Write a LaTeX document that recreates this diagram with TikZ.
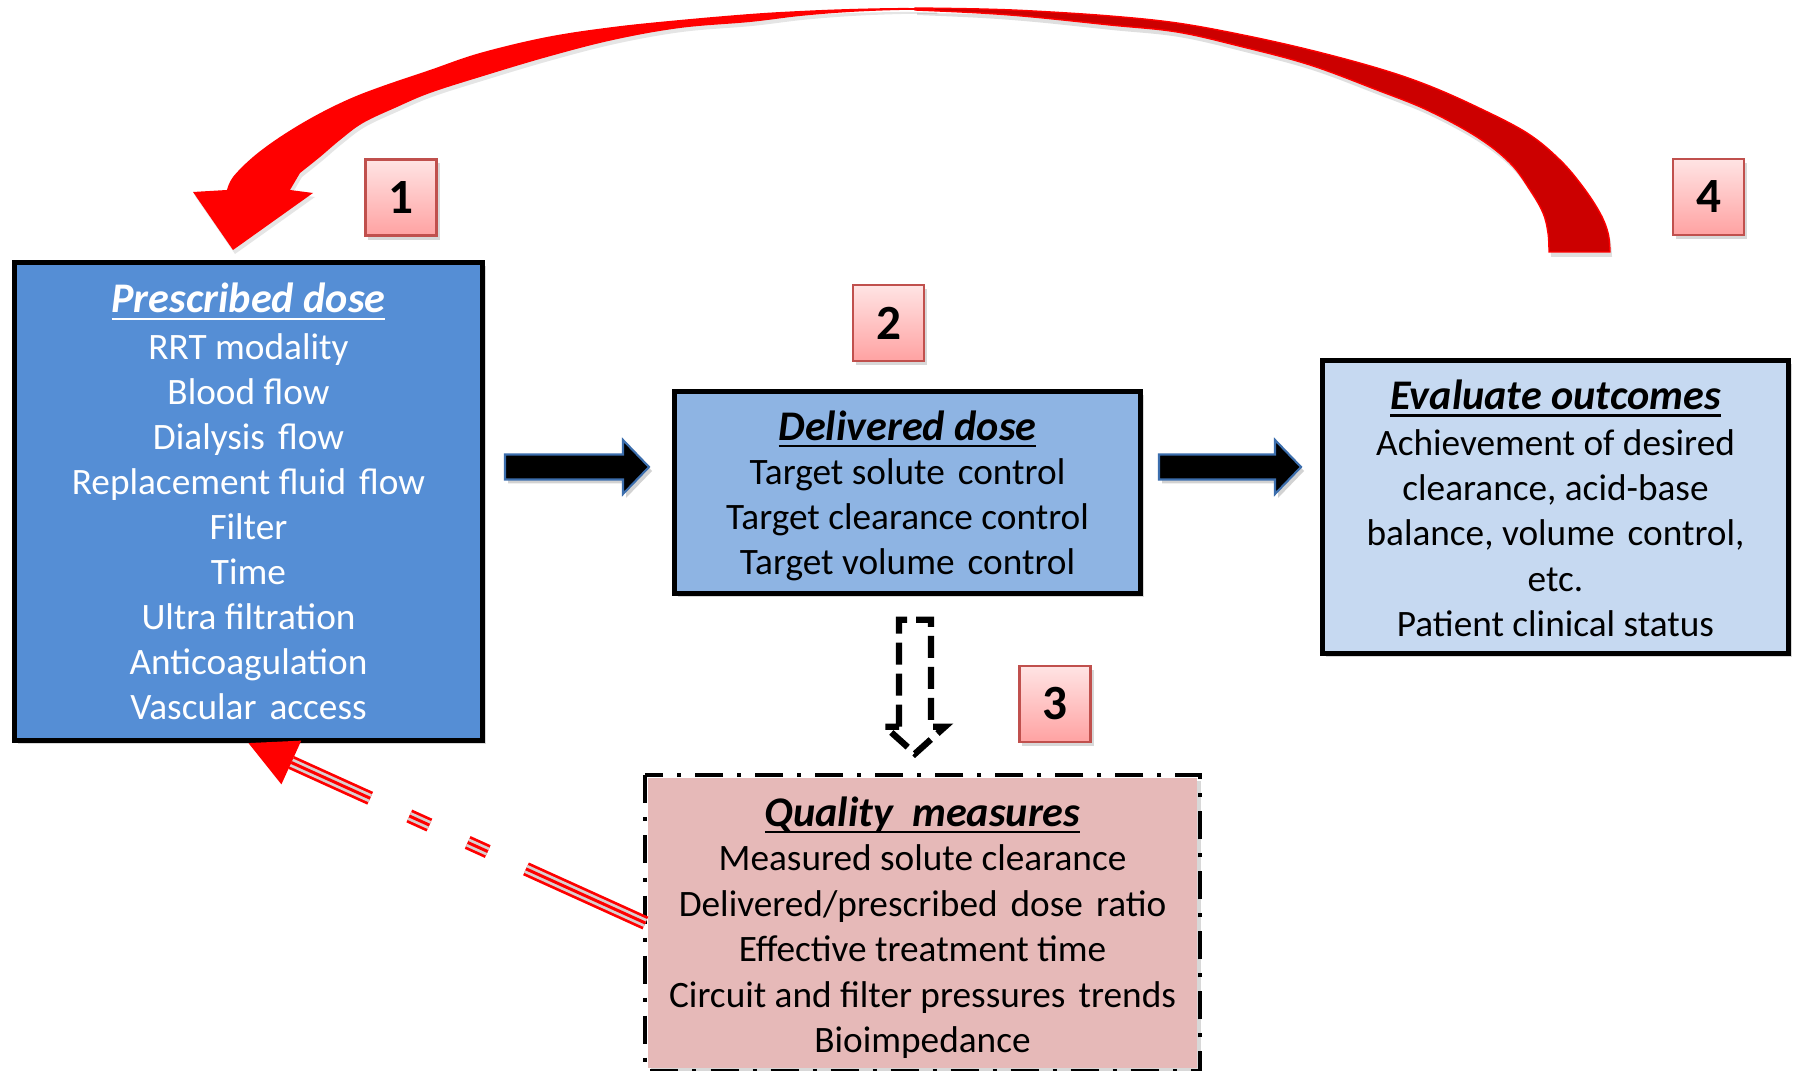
\documentclass[tikz,border=0pt]{standalone}
\usepackage{fontspec}
\setmainfont{Carlito}
\usetikzlibrary{calc,shadows}
\definecolor{bxA}{HTML}{558ED5}
\definecolor{bxB}{HTML}{8EB4E3}
\definecolor{bxC}{HTML}{C6D9F1}
\definecolor{bxQ}{HTML}{E6B9B8}
\definecolor{numTop}{HTML}{FFE4E4}
\definecolor{numBot}{HTML}{FFA2A2}
\definecolor{numBrd}{HTML}{C0504D}
\definecolor{arrBlue}{HTML}{3C6EAD}
\definecolor{redD}{HTML}{CC0000}
\definecolor{stripeG}{HTML}{D8D0D0}
\newcommand\ttl[1]{\leavevmode{\fontsize{12}{12.9}\selectfont\bfseries\itshape\setbox0\hbox{#1}\rlap{\rule[-2pt]{\wd0}{0.65pt}}\box0}}
\newcommand\ds{\hskip0.35em\relax}
\newcommand\boxtext[3]{\raisebox{#1}[\height][\depth]{\parbox{#2}{\centering #3}}}
\tikzset{
  bigbox/.style={draw=black, line width=1.4pt, inner sep=0pt,
    font=\fontsize{10.6}{12.9}\selectfont,
    drop shadow={opacity=0.3, shadow xshift=0.035cm, shadow yshift=-0.035cm}},
  numbox/.style={draw=numBrd, line width=0.6pt, top color=numTop, bottom color=numBot,
    minimum width=0.71cm, minimum height=0.76cm, inner sep=0pt,
    font=\fontsize{14}{14}\selectfont\bfseries,
    drop shadow={opacity=0.3, shadow xshift=0.03cm, shadow yshift=-0.04cm}},
  barrow/.style={fill=black, draw=arrBlue, line width=0.6pt, line join=miter,
    drop shadow={opacity=0.35, shadow xshift=0.03cm, shadow yshift=-0.04cm}},
  hollowarrow/.style={draw=black, line width=1.8pt, dash pattern=on 0.22cm off 0.09cm},
  qborder/.style={line width=1.15pt, dash pattern=on 0.28cm off 0.14cm on 0.04cm off 0.14cm},
  stripedash/.style={dash pattern=on 1.31cm off 0.42cm on 0.22cm off 0.42cm on 0.22cm off 0.43cm on 3cm off 0.1cm},
}
\begin{document}
\begin{tikzpicture}[x=0.01cm,y=-0.01cm]
\useasboundingbox (0,0) rectangle (1797,1071);
\fill[white] (0,0) rectangle (1797,1071);

% big curved arrow: right (dark) part
\filldraw[redD, draw=red, line width=0.4pt,
  drop shadow={opacity=0.25, shadow xshift=0.02cm, shadow yshift=-0.05cm}]
  plot[smooth, tension=0.6] coordinates {(915,8) (980,9) (1033,11) (1110,16) (1177,23) (1243,35) (1310,50) (1377,68) (1427,85) (1477,107) (1527,133) (1560,160) (1583,187) (1600,213) (1608,233) (1610,252)}
  -- plot[smooth, tension=0.6] coordinates {(1549,252) (1548,233) (1543,213) (1530,190) (1510,163) (1477,137) (1427,110) (1377,90) (1310,65) (1243,47) (1177,32) (1110,25) (1033,17) (980,13) (915,10)}
  -- cycle;
% big curved arrow: left (bright) part with head
\fill[red, drop shadow={opacity=0.2, shadow xshift=0.02cm, shadow yshift=-0.04cm}]
  plot[smooth, tension=0.6] coordinates {(935,8.5) (900,8) (850,9) (800,11) (750,14) (680,20) (613,27) (547,37) (480,53) (430,70) (380,87) (347,100) (313,117) (280,137) (253,157) (233,177) (227,190)}
  -- (193,192) -- (233,250) -- (313,193) -- (290,190)
  -- plot[smooth, tension=0.6] coordinates {(300,173) (320,157) (340,140) (363,123) (397,107) (430,93) (480,77) (547,57) (613,40) (680,28) (750,22) (800,16) (850,12) (900,10) (935,10)}
  -- cycle;

% boxes
\node[bigbox, fill=bxA, text=white, minimum width=4.68cm, minimum height=4.78cm] (pd) at (248.5,501.5)
  {\boxtext{0pt}{4.6cm}{\fontsize{10.6}{12.8}\selectfont\ttl{Prescribed dose}\\[0.4pt] RRT modality\\ Blood flow\\ Dialysis\ds flow\\ Replacement fluid\ds flow\\ Filter\\ Time\\ Ultra filtration\\ Anticoagulation\\ Vascular\ds access}};
\node[bigbox, fill=bxB, minimum width=4.66cm, minimum height=2.02cm] (dd) at (907.5,492.5)
  {\boxtext{-1pt}{4.6cm}{\ttl{Delivered dose}\\[-0.4pt] Target solute\ds control\\ Target clearance control\\ Target volume\ds control}};
\node[bigbox, fill=bxC, minimum width=4.66cm, minimum height=2.93cm] (eo) at (1555.5,507)
  {\boxtext{-0.4pt}{4.6cm}{\ttl{Evaluate outcomes}\\[0pt] Achievement of desired\\ clearance, acid-base\\ balance, volume\ds control,\\ etc.\\ Patient clinical status}};
\node[bigbox, draw=none, fill=bxQ, minimum width=5.49cm, minimum height=2.90cm] (qm) at (922.5,923)
  {\boxtext{-1.3pt}{5.4cm}{\ttl{Quality\ \ measures}\\[-0.2pt] Measured solute clearance\\ Delivered/prescribed\ds dose\ds ratio\\ Effective treatment time\\ Circuit and filter pressures\ds trends\\ Bioimpedance}};
\draw[qborder] (qm.north west) rectangle (qm.south east);

% number boxes
\node[numbox] (n1) at (401,197.5) {1};
\node[numbox] (n2) at (888.5,323) {2};
\node[numbox] (n3) at (1055,704) {3};
\node[numbox] (n4) at (1708.5,197) {4};

% black block arrows
\coordinate (a1t) at (505,467);
\coordinate (a1h) at (649,467);
\draw[barrow] (a1t) ++(0,-12.5) -- ++(118,0) -- ++(0,-14.5) -- (a1h) -- ++(-26,27) -- ++(0,-14.5) -- ++(-118,0) -- cycle;
\coordinate (a2t) at (1159,467);
\coordinate (a2h) at (1301,467);
\draw[barrow] (a2t) ++(0,-12.5) -- ++(116,0) -- ++(0,-14.5) -- (a2h) -- ++(-26,27) -- ++(0,-14.5) -- ++(-116,0) -- cycle;

% dashed hollow arrow from delivered dose to quality measures
\coordinate (da) at ($(dd.south)!0.5!(qm.north)$);
\draw[hollowarrow] ($(da)+(-16,41)$) -- ++(0,-107) -- ++(32,0) -- ++(0,107) -- ++(14,0)
  -- ($(da)+(0,68)$) -- ($(da)+(-30,41)$) -- cycle;

% red striped dashed arrow from quality measures back to prescribed dose
\coordinate (rb) at ($(pd.south)!0.47cm!(qm.west)$);
\draw[red, line width=0.14cm, stripedash] (qm.west) -- (rb);
\draw[stripeG, line width=0.085cm, stripedash] (qm.west) -- (rb);
\draw[red, line width=0.03cm, stripedash] (qm.west) -- (rb);
\fill[red] (pd.south) -- ($(rb)!0.24cm!90:(pd.south)$) -- ($(rb)!0.24cm!-90:(pd.south)$) -- cycle;
\end{tikzpicture}
\end{document}
